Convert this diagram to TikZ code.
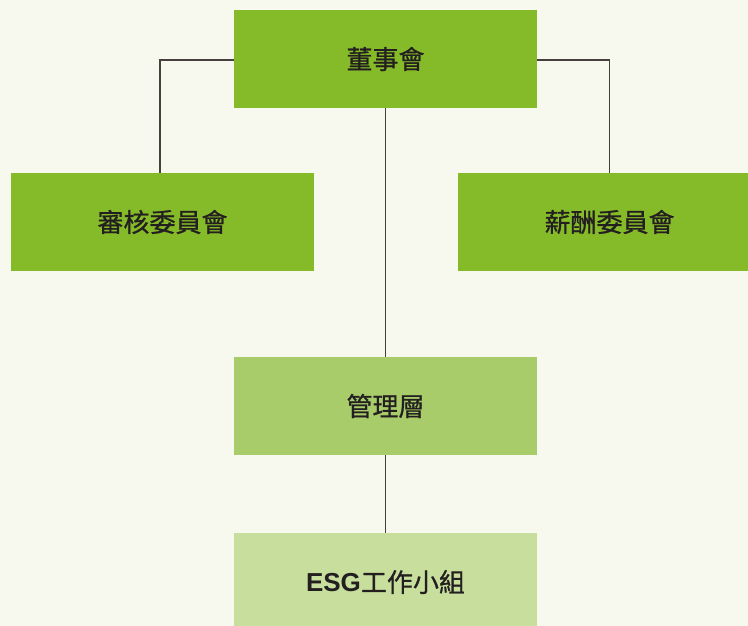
\documentclass[tikz,border=0pt]{standalone}
\usepackage{fontspec}
\usepackage{xcolor}
\usetikzlibrary{positioning,calc}
\newfontfamily\cjk[FakeBold=0.8]{Noto Sans CJK TC}
\newfontfamily\latinbold{Liberation Sans Bold}
\definecolor{bggreen}{HTML}{F7F8EE}
\definecolor{darkgreen}{HTML}{85BA29}
\definecolor{midgreen}{HTML}{A8CC69}
\definecolor{lightgreen}{HTML}{C8DE9C}
\definecolor{textdark}{HTML}{231F20}
\definecolor{linegray}{HTML}{45403E}
\tikzset{
  orgbox/.style={rectangle,minimum width=303pt,minimum height=98pt,inner sep=0pt,
    text=textdark,font=\cjk\fontsize{26}{30}\selectfont},
  link/.style={draw=linegray,line width=1.1pt}
}

\begin{document}
\begin{tikzpicture}[x=1pt,y=1pt]

  % Background and page frame
  \fill[bggreen] (0,0) rectangle (748,-626);
  \useasboundingbox (0,0) rectangle (748,-626);

  % Boxes
  \node[orgbox,fill=darkgreen] (Board) at (385.5,-59) {董事會};
  \node[orgbox,fill=darkgreen] (Audit) at (162.5,-222) {審核委員會};
  \node[orgbox,fill=darkgreen] (Remun) at (609.5,-222) {薪酬委員會};
  \node[orgbox,fill=midgreen] (Mgmt) at (385.5,-406) {管理層};
  \node[orgbox,fill=lightgreen] (ESG) at (385.5,-582) {{\latinbold ESG}工作小組};

  % Connectors
  \draw[link] ($(Board.west)+(0,-1)$) -| ($(Audit.north)+(-2.5,0)$);
  \draw[link] ($(Board.east)+(0,-1)$) -| (Remun.north);
  \draw[link] (Board.south) -- (Mgmt.north);
  \draw[link] (Mgmt.south) -- (ESG.north);

\end{tikzpicture}
\end{document}
